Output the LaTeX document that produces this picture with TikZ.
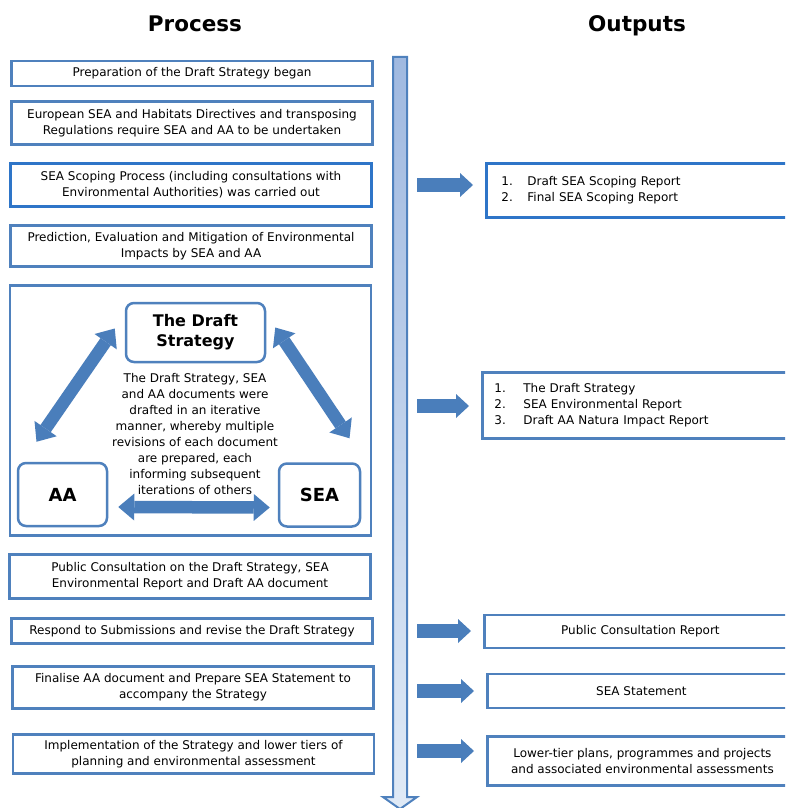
\documentclass[tikz,border=0pt]{standalone}
\usepackage{fontspec}
\setmainfont{DejaVu Sans}
\usetikzlibrary{
  arrows.meta,
  calc
}
\definecolor{boxblue}{RGB}{79,129,189}
\definecolor{scopeblue}{RGB}{46,117,200}
\definecolor{arrowblue}{RGB}{74,126,187}
\definecolor{timetop}{RGB}{160,185,224}
\definecolor{timebot}{RGB}{224,234,246}
\tikzset{
  headline/.style={
    anchor=base,
    font=\fontsize{21.5}{26}\selectfont\bfseries
  },
  bodytext/.style={
    align=center,
    font=\fontsize{12}{16}\selectfont
  },
  procbox/.style={
    bodytext,
    draw=boxblue,
    line width=2.8pt,
    fill=white,
    minimum width=361pt,
    inner sep=2pt
  },
  roundbox/.style={
    draw=boxblue,
    line width=2.5pt,
    rounded corners=8pt,
    fill=white,
    align=center,
    inner sep=2pt
  },
  outbox/.style={
    bodytext,
    draw=boxblue,
    line width=2.8pt,
    fill=white,
    anchor=west,
    inner sep=2pt
  },
  sidearrow/.style={
    arrowblue,
    line width=14pt,
    -{Triangle[length=13pt,width=24pt,line width=0pt]}
  },
  iterarrow/.style={
    arrowblue,
    line width=12.5pt,
    {Triangle[length=16pt,width=27pt,line width=0pt]}-{Triangle[length=16pt,width=27pt,line width=0pt]}
  },
  timeline/.style={
    draw=boxblue,
    line width=2pt,
    top color=timetop,
    bottom color=timebot
  }
}

\begin{document}
\begin{tikzpicture}[x=1pt,y=-1pt]
\useasboundingbox (0,0) rectangle (785,808);
\clip (0,0) rectangle (785,808);

\node[headline] (proc head) at (195,32) {Process};
\node[headline] (out head) at (637,32) {Outputs};

% time line
\coordinate (tl top) at (400,57);
\coordinate (tl end) at (400,809);
\path[timeline] ($(tl top)+(-7,0)$) -- ($(tl top)+(7,0)$)
  -- ($(tl end)+(7,-12)$) -- ($(tl end)+(17,-12)$) -- (tl end)
  -- ($(tl end)+(-17,-12)$) -- ($(tl end)+(-7,-12)$) -- cycle;

% process
\node[procbox, minimum height=25pt] (prep) at (192,73.5)
  {Preparation of the Draft Strategy began};
\node[procbox, minimum height=43pt] (directives) at (192,123)
  {European SEA and Habitats Directives and transposing\\Regulations require SEA and AA to be undertaken};
\node[procbox, draw=scopeblue, minimum height=43pt] (scoping) at (191,185)
  {SEA Scoping Process (including consultations with\\Environmental Authorities) was carried out};
\node[procbox, minimum height=41pt] (predict) at (191,246)
  {Prediction, Evaluation and Mitigation of Environmental\\Impacts by SEA and AA};
\node[procbox, minimum height=250pt] (iterate) at (190.5,410.5) {};
\node[procbox, minimum height=44pt] (consult) at (190,576.5)
  {Public Consultation on the Draft Strategy, SEA\\Environmental Report and Draft AA document};
\node[procbox, minimum height=25pt] (respond) at (192,631)
  {Respond to Submissions and revise the Draft Strategy};
\node[procbox, minimum height=42pt] (finalise) at (193,687.5)
  {Finalise AA document and Prepare SEA Statement to\\accompany the Strategy};
\node[procbox, minimum height=39pt] (implement) at (193.5,754)
  {Implementation of the Strategy and lower tiers of\\planning and environmental assessment};

% iterative drafting
\node[roundbox, font=\fontsize{16}{20}\selectfont\bfseries,
  minimum width=139pt, minimum height=59pt] (draft) at (195.5,332.5) {The Draft\\Strategy};
\node[roundbox, font=\fontsize{18}{22}\selectfont\bfseries,
  minimum width=89pt, minimum height=63pt] (aa) at (62.5,494.5) {AA};
\node[roundbox, font=\fontsize{18}{22}\selectfont\bfseries,
  minimum width=81pt, minimum height=63pt] (sea) at (319.5,495) {SEA};
\draw[iterarrow] ([xshift=-10pt,yshift=4pt]draft.west) -- ([xshift=-26pt,yshift=20pt]aa.north);
\draw[iterarrow] ([xshift=9pt,yshift=5pt]draft.east) -- ([xshift=30pt,yshift=24pt]sea.north);
\draw[iterarrow] ([xshift=10pt,yshift=-12.5pt]aa.east) -- ([xshift=-8pt,yshift=-12.5pt]sea.west);
\node[bodytext] (iter text) at (195,434)
  {The Draft Strategy, SEA\\and AA documents were\\drafted in an iterative\\manner, whereby multiple\\revisions of each document\\are prepared, each\\informing subsequent\\iterations of others};

% outputs
\node[outbox, draw=scopeblue, minimum height=54pt, text width=280pt, align=left,
  inner xsep=15pt] (scopingout) at (485,190.5)
  {\makebox[26pt][l]{1.}Draft SEA Scoping Report\\\makebox[26pt][l]{2.}Final SEA Scoping Report};
\node[outbox, minimum height=66pt, text width=286pt, align=left,
  inner xsep=12pt] (draftout) at (481,405.5)
  {\makebox[29pt][l]{1.}The Draft Strategy\\\makebox[29pt][l]{2.}SEA Environmental Report\\\makebox[29pt][l]{3.}Draft AA Natura Impact Report};
\node[outbox, minimum width=312pt, minimum height=33pt] (consultout) at (483,631.5)
  {Public Consultation Report};
\node[outbox, minimum width=308pt, minimum height=34pt] (statementout) at (486,691)
  {SEA Statement};
\node[outbox, minimum width=310pt, minimum height=49pt] (lowertierout) at (486,761)
  {Lower-tier plans, programmes and projects\\and associated environmental assessments};

\foreach \y/\o in {185/scopingout, 406/draftout, 631/consultout, 691/statementout, 751/lowertierout}
  \draw[sidearrow] ($(tl top |- 0,\y)+(17,0)$) -- ($(\o.west |- 0,\y)+(-12,0)$);
\end{tikzpicture}
\end{document}
